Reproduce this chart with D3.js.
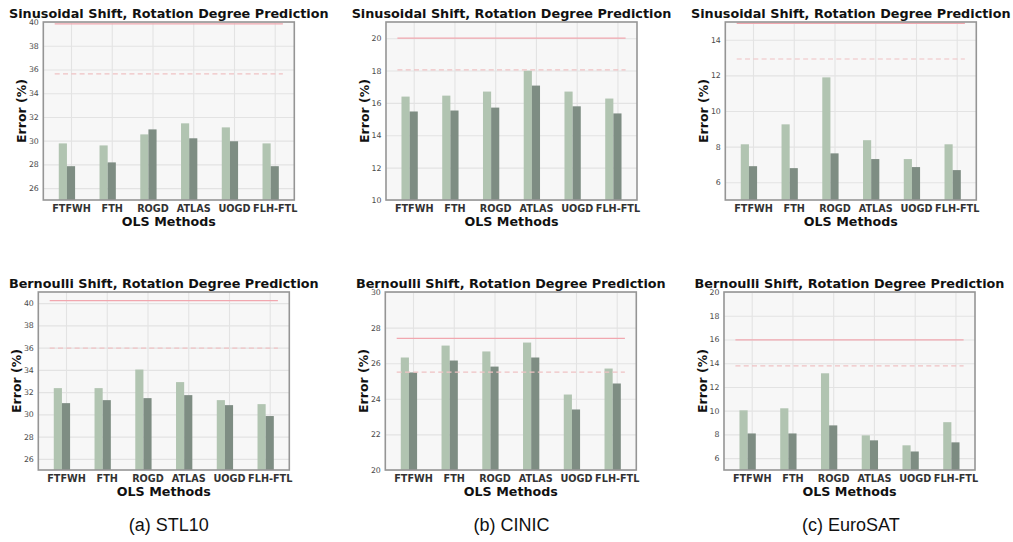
<!DOCTYPE html>
<html>
<head>
<meta charset="utf-8">
<script src="https://cdn.jsdelivr.net/npm/d3@7"></script>
<style>
  body { margin: 0; background: #fff; }
  svg { display: block; }
</style>
</head>
<body>
<div id="chart"></div>
<script>
// categories
const methods = ["FTFWH", "FTH", "ROGD", "ATLAS", "UOGD", "FLH-FTL"];
const captions = ["(a) STL10", "(b) CINIC", "(c) EuroSAT"];
const titleSin = "Sinusoidal Shift, Rotation Degree Prediction";
const titleBer = "Bernoulli Shift, Rotation Degree Prediction";

// values (light bar, dark bar, [solid ref, dashed ref])
const stl10SinLight = [29.77, 29.6, 30.53, 31.46, 31.12, 29.77];
const stl10SinDark = [27.85, 28.17, 30.95, 30.2, 29.95, 27.85];
const stl10SinRef = [39.85, 35.63];
const cinicSinLight = [16.39, 16.45, 16.7, 17.99, 16.7, 16.27];
const cinicSinDark = [15.47, 15.53, 15.71, 17.07, 15.79, 15.35];
const cinicSinRef = [20.0, 18.04];
const eurosatSinLight = [8.13, 9.25, 11.89, 8.36, 7.3, 8.13];
const eurosatSinDark = [6.9, 6.79, 7.62, 7.3, 6.85, 6.68];
const eurosatSinRef = [14.93, 12.92];

const stl10BerLight = [32.36, 32.36, 34.03, 32.9, 31.28, 30.92];
const stl10BerDark = [31.01, 31.28, 31.46, 31.73, 30.83, 29.85];
const stl10BerRef = [40.22, 35.95];
const cinicBerLight = [26.32, 26.99, 26.66, 27.16, 24.24, 25.7];
const cinicBerDark = [25.48, 26.15, 25.81, 26.32, 23.4, 24.86];
const cinicBerRef = [27.4, 25.5];
const eurosatBerLight = [10.03, 10.2, 13.15, 7.92, 7.08, 9.03];
const eurosatBerDark = [8.08, 8.08, 8.76, 7.5, 6.56, 7.33];
const eurosatBerRef = [15.97, 13.77];

// y axis tick labels
const stl10SinTicks = [26, 28, 30, 32, 34, 36, 38, 40];
const cinicSinTicks = [10, 12, 14, 16, 18, 20];
const eurosatSinTicks = [6, 8, 10, 12, 14];
const stl10BerTicks = [26, 28, 30, 32, 34, 36, 38, 40];
const cinicBerTicks = [20, 22, 24, 26, 28, 30];
const eurosatBerTicks = [6, 8, 10, 12, 14, 16, 18, 20];

const panels = [
  {title: titleSin, light: stl10SinLight, dark: stl10SinDark, ref: stl10SinRef, ydom: [25, 40], ticks: stl10SinTicks, left: 43.3, top: 22},
  {title: titleSin, light: cinicSinLight, dark: cinicSinDark, ref: cinicSinRef, ydom: [10, 21], ticks: cinicSinTicks, left: 386, top: 22},
  {title: titleSin, light: eurosatSinLight, dark: eurosatSinDark, ref: eurosatSinRef, ydom: [5, 15], ticks: eurosatSinTicks, left: 725.3, top: 22},
  {title: titleBer, light: stl10BerLight, dark: stl10BerDark, ref: stl10BerRef, ydom: [25, 41], ticks: stl10BerTicks, left: 38.3, top: 292},
  {title: titleBer, light: cinicBerLight, dark: cinicBerDark, ref: cinicBerRef, ydom: [20, 30], ticks: cinicBerTicks, left: 385.3, top: 292},
  {title: titleBer, light: eurosatBerLight, dark: eurosatBerDark, ref: eurosatBerRef, ydom: [5, 20], ticks: eurosatBerTicks, left: 724, top: 292}
];

const W = 1013, H = 542;
const pw = 251, ph = 178;
const font = "DejaVu Sans, sans-serif";

const svg = d3.select("#chart")
  .append("svg")
  .attr("width", W)
  .attr("height", H);

panels.forEach(function (p, k) {
  const g = svg.append("g")
    .attr("transform", "translate(" + p.left + "," + p.top + ")");

  const x = d3.scaleLinear().domain([-0.68, 5.48]).range([0, pw]);
  const y = d3.scaleLinear().domain(p.ydom).range([ph, 0]);

  g.append("rect")
    .attr("width", pw)
    .attr("height", ph)
    .attr("fill", "#f7f7f7");

  // grid
  g.append("g")
    .call(d3.axisLeft(y).tickValues(p.ticks).tickSize(-pw).tickFormat(""))
    .call(s => s.select(".domain").remove())
    .selectAll("line").attr("stroke", "#e3e3e3").attr("stroke-width", 1.1);
  g.append("g")
    .attr("transform", "translate(0," + ph + ")")
    .call(d3.axisBottom(x).tickValues(d3.range(methods.length)).tickSize(-ph).tickFormat(""))
    .call(s => s.select(".domain").remove())
    .selectAll("line").attr("stroke", "#e3e3e3").attr("stroke-width", 1.1);

  // bars
  g.selectAll(".light")
    .data(p.light)
    .enter().append("rect")
    .attr("class", "light")
    .attr("x", (d, i) => x(i - 0.3))
    .attr("width", x(0.2) - x(0))
    .attr("y", d => y(d))
    .attr("height", d => ph - y(d))
    .attr("fill", "#b1c4b1");

  g.selectAll(".dark")
    .data(p.dark)
    .enter().append("rect")
    .attr("class", "dark")
    .attr("x", (d, i) => x(i - 0.1))
    .attr("width", x(0.2) - x(0))
    .attr("y", d => y(d))
    .attr("height", d => ph - y(d))
    .attr("fill", "#7e8d83");

  // reference lines
  g.append("line")
    .attr("x1", x(-0.4)).attr("x2", x(5.2))
    .attr("y1", y(p.ref[0])).attr("y2", y(p.ref[0]))
    .attr("stroke", "#f1a7af")
    .attr("stroke-width", 1.3);
  g.append("line")
    .attr("x1", x(-0.4)).attr("x2", x(5.2))
    .attr("y1", y(p.ref[1])).attr("y2", y(p.ref[1]))
    .attr("stroke", "#efc2c4")
    .attr("stroke-width", 1.2)
    .attr("stroke-dasharray", "5,3.3");

  // frame
  g.append("rect")
    .attr("width", pw)
    .attr("height", ph)
    .attr("fill", "none")
    .attr("stroke", "#959595")
    .attr("stroke-width", 1.6);

  // tick labels
  const ya = g.append("g")
    .call(d3.axisLeft(y).tickValues(p.ticks).tickSize(0).tickPadding(4.5));
  ya.select(".domain").remove();
  ya.selectAll("text")
    .attr("font-family", font)
    .attr("font-size", 7.8)
    .attr("fill", "#4a4a4a");

  const xa = g.append("g")
    .attr("transform", "translate(0," + ph + ")")
    .call(d3.axisBottom(x).tickValues(d3.range(methods.length)).tickSize(0).tickPadding(5).tickFormat(i => methods[i]));
  xa.select(".domain").remove();
  xa.selectAll("text")
    .attr("font-family", font)
    .attr("font-size", 9.7)
    .attr("font-weight", "bold")
    .attr("fill", "#333");

  // labels
  g.append("text")
    .attr("x", pw / 2)
    .attr("y", -4.5)
    .attr("text-anchor", "middle")
    .attr("font-family", font)
    .attr("font-size", 12.8)
    .attr("font-weight", "bold")
    .attr("fill", "#111")
    .text(p.title);

  g.append("text")
    .attr("x", pw / 2)
    .attr("y", ph + 26)
    .attr("text-anchor", "middle")
    .attr("font-family", font)
    .attr("font-size", 12.7)
    .attr("font-weight", "bold")
    .attr("fill", "#111")
    .text("OLS Methods");

  g.append("text")
    .attr("transform", "translate(-17.5," + (ph / 2) + ") rotate(-90)")
    .attr("text-anchor", "middle")
    .attr("font-family", font)
    .attr("font-size", 12.5)
    .attr("font-weight", "bold")
    .attr("fill", "#111")
    .text("Error (%)");

  if (k < 3) {
    svg.append("text")
      .attr("x", p.left + pw / 2)
      .attr("y", 531)
      .attr("text-anchor", "middle")
      .attr("font-family", "Liberation Sans, Arial, sans-serif")
      .attr("font-size", 18)
      .attr("fill", "#111")
      .text(captions[k]);
  }
});
</script>
</body>
</html>
